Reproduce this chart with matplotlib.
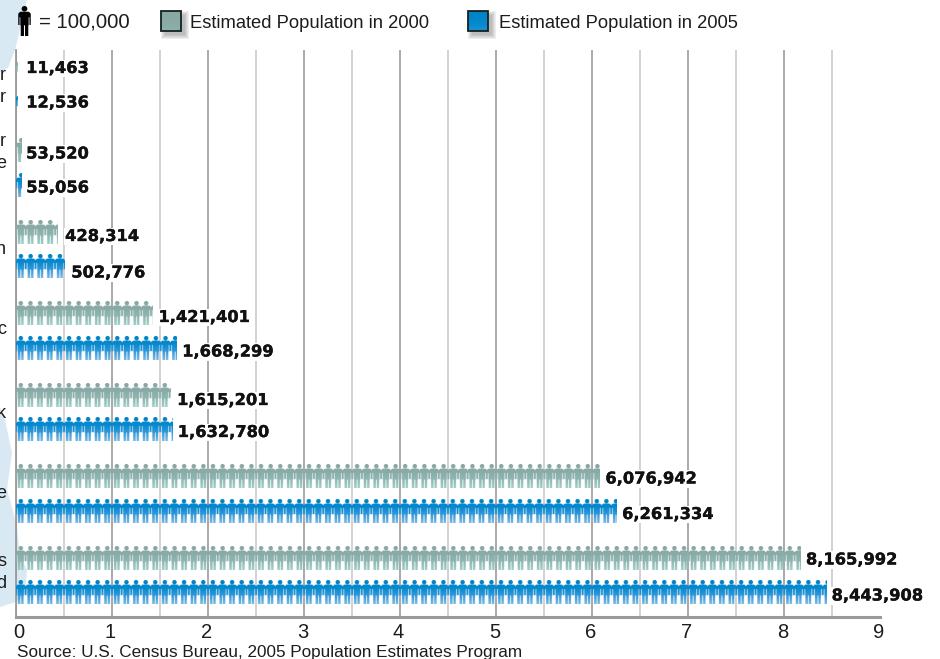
import numpy as np
import matplotlib
matplotlib.use('Agg')
import matplotlib.pyplot as plt
import matplotlib.patheffects as pe
from matplotlib.colors import LinearSegmentedColormap
from matplotlib.patches import PathPatch, Polygon, Rectangle
from matplotlib.path import Path
from matplotlib.transforms import Affine2D, ScaledTranslation

plt.rcParams['font.family'] = ['Liberation Sans', 'DejaVu Sans']

pop_2000 = [11463, 53520, 428314, 1421401, 1615201, 6076942, 8165992]
pop_2005 = [12536, 55056, 502776, 1668299, 1632780, 6261334, 8443908]
label_2000 = ['11,463', '53,520', '428,314', '1,421,401', '1,615,201', '6,076,942', '8,165,992']
label_2005 = ['12,536', '55,056', '502,776', '1,668,299', '1,632,780', '6,261,334', '8,443,908']
axis_ticks = [0, 1, 2, 3, 4, 5, 6, 7, 8, 9]
name_ends = ['r', 'r', 'r', 'e', 'n', 'c', 'k', 'e', 's', 'd']
name_end_y = [75, 97, 141, 163, 250, 330, 413, 494, 562, 583]

W, H = 940, 659
PX_X = 96.0     # pixels per million
PX_Y = 81.5     # pixels per race group
ROW2 = 34.5 / PX_Y
TEXT = '#1c1c1c'
TILE_W, TILE_H = 48, 120    # samples in one figure's bitmap

# label nudges in pixels (dx, dy)
nudge_2000 = [(9, -0.5), (5, 3.5), (8, 4.5), (6, 4), (6, 5.5), (6, 2.5), (6, 2)]
nudge_2005 = [(9, -0.5), (5, 3), (7, 6.5), (6, 4), (5, 3), (5, 3.5), (5, 3.5)]

teal = LinearSegmentedColormap.from_list('teal', ['#88a7a4', '#8aaba7', '#8fb8b3', '#9ecfc9'])
blue = LinearSegmentedColormap.from_list('blue', ['#0082c4', '#0689ce', '#359ada', '#7ab8e7'])


def person():
    head = Path.circle((0, 2.2), 2.2)
    body = Path([(-3.3, 4.6), (3.3, 4.6), (4.8, 6.1), (4.8, 15.2), (3.8, 15.2), (3.8, 9.0),
                 (3.2, 9.0), (3.2, 15.5), (2.9, 15.5), (2.9, 24), (0.4, 24), (0.4, 15.5), (-0.4, 15.5),
                 (-0.4, 24), (-2.9, 24), (-2.9, 15.5), (-3.2, 15.5), (-3.2, 9.0), (-3.8, 9.0),
                 (-3.8, 15.2), (-4.8, 15.2), (-4.8, 6.1), (-3.3, 4.6)], closed=True)
    return Path.make_compound_path(head, body)


def person_mask():
    # sample the outline on a fine grid so the figures come out smooth once scaled down
    xs = (np.arange(TILE_W) + 0.5) / TILE_W * 9.6 - 4.8
    ys = (np.arange(TILE_H) + 0.5) / TILE_H * 24
    gx, gy = np.meshgrid(xs, ys)
    pts = np.column_stack([gx.ravel(), gy.ravel()])
    shape = person()
    inside = np.zeros(len(pts), dtype=bool)
    for poly in shape.to_polygons(closed_only=True):
        inside |= Path(poly).contains_points(pts)
    return inside.reshape(gx.shape)


mask = person_mask()


def draw_row(ax, value, yc, cmap):
    # one figure per 100,000, the last one cut off at the value
    persons = value / 1e5
    repeat = int(np.ceil(persons))
    cols = max(int(round(persons * TILE_W)), 1)
    strip = np.tile(mask, (1, repeat))[:, :cols]
    rgba = np.repeat(cmap(np.linspace(0, 1, TILE_H))[:, None, :], cols, axis=1)
    rgba[..., 3] = strip
    top, bottom = yc - 12 / PX_Y, yc + 12 / PX_Y
    ax.imshow(rgba, aspect='auto', extent=(0, cols / TILE_W * 0.1, bottom, top), origin='upper',
              zorder=3, interpolation='hanning')


fig = plt.figure(figsize=(W / 100, H / 100), dpi=100)

# page layer in pixel coordinates
bg = fig.add_axes([0, 0, 1, 1], zorder=0)
bg.set_xlim(0, W)
bg.set_ylim(H, 0)
bg.axis('off')

map_blue = '#d9e9f3'
bg.add_patch(Polygon([(0, 0), (27, 0), (21, 25), (15, 50), (8, 68), (0, 72)], fc=map_blue, ec='none'))
bg.add_patch(Polygon([(0, 407), (5, 420), (12, 453), (9, 475), (7, 490), (12, 507), (17, 527),
                      (20, 555), (27, 570), (25, 593), (16, 602), (0, 607)], fc=map_blue, ec='none'))

for s, yy in zip(name_ends, name_end_y):
    bg.text(6, yy, s, ha='right', va='center', fontsize=13, color=TEXT)

# main chart
ax = fig.add_axes([16 / W, (H - 617) / H, 864 / W, 567 / H], zorder=1)
ax.patch.set_alpha(0)

for g in range(len(pop_2000)):
    y1 = g
    y2 = g + ROW2
    draw_row(ax, pop_2000[g], y1, teal)
    draw_row(ax, pop_2005[g], y2, blue)
    for val, lab, yy, (dx, dy) in ((pop_2000[g], label_2000[g], y1, nudge_2000[g]),
                                   (pop_2005[g], label_2005[g], y2, nudge_2005[g])):
        txt = ax.annotate(lab, (val / 1e6, yy), xytext=(dx * 0.72, -dy * 0.72), textcoords='offset points',
                          ha='left', va='center', fontsize=11.7, fontweight='bold', color='#111111',
                          family='DejaVu Sans', zorder=4,
                          bbox=dict(fc='white', ec='none', pad=1))
        txt.set_path_effects([pe.withStroke(linewidth=0.25, foreground='#111111')])

ax.set_xlim(0, 9)
ax.set_ylim((617 - 69) / PX_Y, (50 - 69) / PX_Y)
ax.set_yticks([])
ax.set_xticks(axis_ticks)
ax.set_xticks(np.array(axis_ticks[:-1]) + 0.5, minor=True)
ax.set_xticklabels([str(t) for t in axis_ticks], fontsize=14.5, color=TEXT)
ax.tick_params(axis='x', which='both', length=0, pad=4)
ax.grid(True, axis='x', which='major', color='#a3a3a3', lw=1.3, zorder=1)
ax.grid(True, axis='x', which='minor', color='#cfcfcf', lw=1.3, zorder=1)
ax.xaxis.get_gridlines()[-1].set_visible(False)
ax.set_axisbelow(True)
for side in ('top', 'right'):
    ax.spines[side].set_visible(False)
ax.spines['left'].set_color('#9a9a9a')
ax.spines['left'].set_linewidth(1.3)
ax.spines['bottom'].set_color('#9a9a9a')
ax.spines['bottom'].set_linewidth(2.2)

# the zero sits a little right of the axis line, the rest slightly left
tick_labels = ax.get_xticklabels()
for t, lab in zip(axis_ticks, tick_labels):
    shift = 3 if t == 0 else -1.5
    lab.set_transform(lab.get_transform() + ScaledTranslation(shift / 100, 0, fig.dpi_scale_trans))

# key
icon = person().transformed(Affine2D().scale(12.5 / 9.6, 30.0 / 24).translate(24.5, 6))
bg.add_patch(PathPatch(icon, fc='black', ec='none'))
bg.text(39, 22, '= 100,000', ha='left', va='center', fontsize=14.6, color=TEXT)


def swatch(x, cmap):
    # soft drop shadow built up from stacked translucent boxes
    for k in range(5):
        bg.add_patch(Rectangle((x + 4 - k, 15 - k), 20 + 2 * k, 20 + 2 * k, fc='#555555',
                               ec='none', alpha=0.09, zorder=2))
    grad = np.linspace(0, 0.5, 32).reshape(-1, 1)
    bg.imshow(grad, cmap=cmap, vmin=0, vmax=1, aspect='auto', extent=(x, x + 20, 31, 11),
              zorder=3, origin='upper')
    bg.add_patch(Rectangle((x, 11), 20, 20, fc='none', ec='#15211f', lw=1.3, zorder=4))


swatch(161, teal)
swatch(468, blue)
bg.set_xlim(0, W)
bg.set_ylim(H, 0)
bg.text(190, 23, 'Estimated Population in 2000', ha='left', va='center', fontsize=13.2, color=TEXT)
bg.text(499, 23, 'Estimated Population in 2005', ha='left', va='center', fontsize=13.2, color=TEXT)

bg.text(17, 652, 'Source: U.S. Census Bureau, 2005 Population Estimates Program', ha='left',
        va='center', fontsize=12.35, color=TEXT)

fig.savefig('out.png', dpi=100)
